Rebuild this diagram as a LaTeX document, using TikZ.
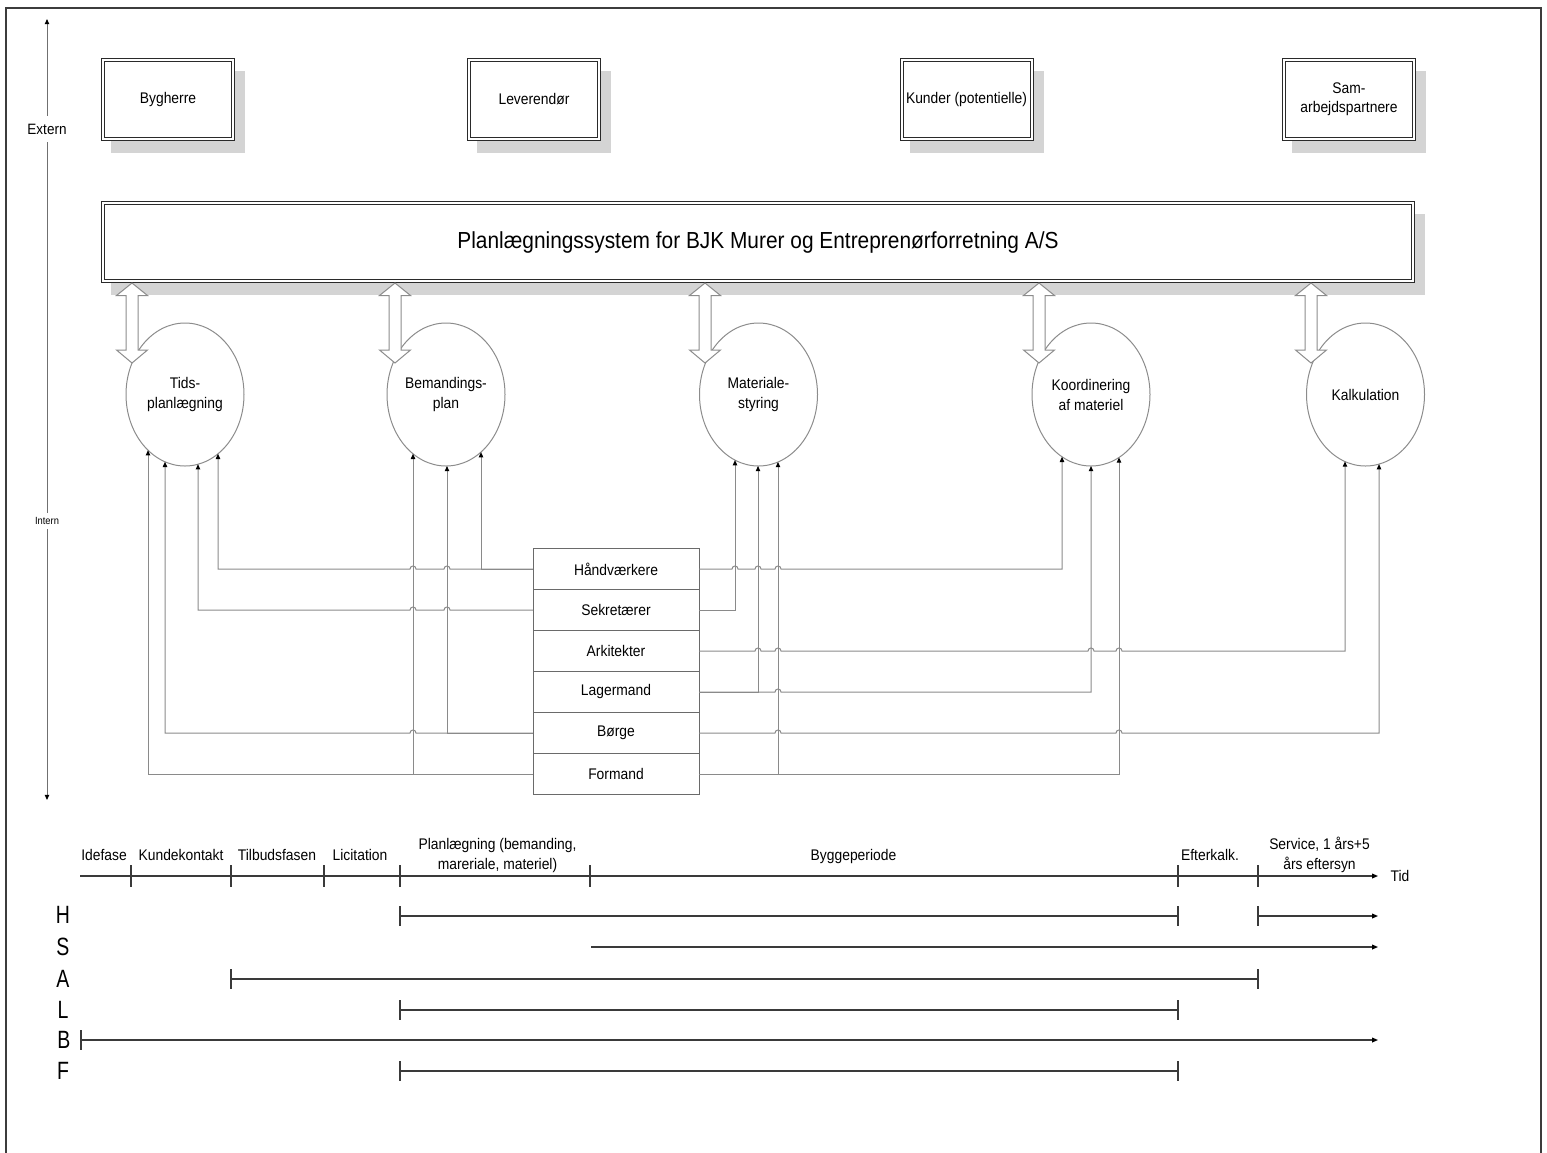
\documentclass[tikz,border=0pt]{standalone}
\usepackage{fontspec}
\setmainfont{Liberation Sans}[FakeStretch=0.9]
\newfontfamily\rowfont[FakeStretch=0.78]{Liberation Sans}
\usetikzlibrary{arrows.meta,shapes.geometric,backgrounds}
\definecolor{framec}{HTML}{3C3C3C}
\definecolor{boxc}{HTML}{2A2A2A}
\definecolor{shadowc}{HTML}{D4D4D4}
\definecolor{connc}{HTML}{8A8A8A}
\definecolor{ellc}{HTML}{8C8C8C}
\definecolor{tabc}{HTML}{6A6A6A}
\definecolor{tlc}{HTML}{3A3A3A}
\definecolor{axisc}{HTML}{707070}
\begin{document}
\begin{tikzpicture}[x=0.5pt,y=-0.5pt,
  txt/.style={font=\fontsize{7.7}{10}\selectfont, align=center, inner sep=0pt},
  basetxt/.style={txt, anchor=base},
  topbox/.style={draw=boxc, double=white, double distance=1pt, line width=0.5pt, fill=white,
    minimum width=65pt, minimum height=39.5pt, inner sep=0pt, outer sep=0pt, align=center,
    font=\fontsize{7.7}{9.4}\selectfont},
  sysbox/.style={topbox, minimum width=655pt, minimum height=39pt, font=\fontsize{11.6}{13}\selectfont},
  ell/.style={ellipse, draw=ellc, line width=0.5pt, minimum width=59pt, minimum height=71.5pt,
    inner sep=0pt, outer sep=0pt, align=center, font=\fontsize{7.7}{10}\selectfont},
  rowbox/.style={draw=tabc, line width=0.5pt, fill=white, minimum width=83pt, minimum height=20.5pt,
    inner sep=0pt, outer sep=0pt, font=\fontsize{7.7}{9}\selectfont},
  conn/.style={draw=connc, line width=0.5pt},
  endarrow/.style={-{Triangle[length=2.6pt,width=2.2pt,color=black]}},
  tl/.style={draw=tlc, line width=0.6pt},
  tlarrow/.style={-{Triangle[length=3pt,width=2.4pt,color=black]}},
  rowlbl/.style={font=\rowfont\fontsize{12.5}{12.5}\selectfont, inner sep=0pt},
  dblarrow/.pic={
    \draw[draw=ellc, line width=0.5pt, fill=white]
      (0,0) -- (15.5,12.5) -- (6,12.5) -- (6,67) -- (15.5,67) -- (0,80)
      -- (-15.5,67) -- (-6,67) -- (-6,12.5) -- (-15.5,12.5) -- cycle;
  }
]
\useasboundingbox (0,0) rectangle (1547,1152);
% frame
\draw[framec, line width=1pt] (6,1160) -- (6,7.5) -- (1541,7.5) -- (1541,1160);

% left axis
\draw[axisc, line width=0.5pt, {Triangle[length=2.6pt,width=2.2pt,color=black]}-{Triangle[length=2.6pt,width=2.2pt,color=black]}] (47,19) -- (47,800);
\node[fill=white, inner xsep=1pt, inner ysep=4pt, font=\fontsize{7.5}{8}\selectfont] (ext) at (47,129) {Extern};
\node[fill=white, inner xsep=1pt, inner ysep=2pt, font=\fontsize{5.2}{6}\selectfont] (int) at (47,521) {Intern};

% top boxes
\node[topbox] (b1) at (168,99.5) {Bygherre};
\node[topbox] (b2) at (534,99.5) {Leverendør};
\node[topbox] (b3) at (966.5,99.5) {Kunder (potentielle)};
\node[topbox] (b4) at (1349,99.5) {Sam-\\arbejdspartnere};
\node[sysbox] (sys) at (758,242) {Planlægningssystem for BJK Murer og Entreprenørforretning A/S};

\begin{pgfonlayer}{background}
\foreach \n in {b1,b2,b3,b4,sys}
  \fill[shadowc] ([shift={(4pt,-5.5pt)}]\n.north west) rectangle ([shift={(6pt,-7pt)}]\n.south east);
\end{pgfonlayer}

% ellipses
\node[ell] (tids) at (185,394.5) {Tids-\\planlægning};
\node[ell] (bem) at (446,394.5) {Bemandings-\\plan};
\node[ell] (mat) at (758.5,394.5) {Materiale-\\styring};
\node[ell] (koo) at (1091,394.5) {Koordinering\\af materiel};
\node[ell] (kal) at (1365.5,394.5) {Kalkulation};

% double arrows
\pic at (132,283) {dblarrow};
\pic at (395,283) {dblarrow};
\pic at (705,283) {dblarrow};
\pic at (1039,283) {dblarrow};
\pic at (1311,283) {dblarrow};

% table
\node[rowbox] (hv) at (616,569) {Håndværkere};
\node[rowbox] (sk) at (616,610) {Sekretærer};
\node[rowbox] (ar) at (616,651) {Arkitekter};
\node[rowbox] (lg) at (616,692) {Lagermand};
\node[rowbox] (bo) at (616,733) {Børge};
\node[rowbox] (fm) at (616,774) {Formand};

% left connectors
\draw[conn, endarrow] (hv.west) -- (450,569) .. controls (450,565) and (444,565) .. (444,569)
  -- (416,569) .. controls (416,565) and (410,565) .. (410,569) -- (218,569) -- (218,453.8);
\draw[conn, endarrow] (hv.west) -| (481,452.1);
\draw[conn, endarrow] (sk.west) -- (450,610) .. controls (450,606) and (444,606) .. (444,610)
  -- (416,610) .. controls (416,606) and (410,606) .. (410,610) -- (198,610) -- (198,464.2);
\draw[conn, endarrow] (bo.west) -- (416,733) .. controls (416,729) and (410,729) .. (410,733)
  -- (165,733) -- (165,461.8);
\draw[conn, endarrow] (bo.west) -| (447,466);
\draw[conn, endarrow] (fm.west) -| (148,450.2);
\draw[conn, endarrow] (fm.west) -| (413,453.8);

% right connectors
\draw[conn, endarrow] (hv.east) -- (732,569) .. controls (732,565) and (738,565) .. (738,569)
  -- (755,569) .. controls (755,565) and (761,565) .. (761,569)
  -- (775,569) .. controls (775,565) and (781,565) .. (781,569) -- (1062,569) -- (1062,456.8);
\draw[conn, endarrow] (sk.east) -| (735,460.1);
\draw[conn, endarrow] (ar.east) -- (755,651) .. controls (755,647) and (761,647) .. (761,651)
  -- (775,651) .. controls (775,647) and (781,647) .. (781,651)
  -- (1088,651) .. controls (1088,647) and (1094,647) .. (1094,651)
  -- (1116,651) .. controls (1116,647) and (1122,647) .. (1122,651) -- (1345,651) -- (1345,461.5);
\draw[conn, endarrow] (lg.east) -| (758,466);
\draw[conn, endarrow] (lg.east) -- (775,692) .. controls (775,688) and (781,688) .. (781,692)
  -- (1091,692) -- (1091,466);
\draw[conn, endarrow] (bo.east) -- (775,733) .. controls (775,729) and (781,729) .. (781,733)
  -- (1116,733) .. controls (1116,729) and (1122,729) .. (1122,733) -- (1379,733) -- (1379,464.1);
\draw[conn, endarrow] (fm.east) -| (778,462);
\draw[conn, endarrow] (fm.east) -| (1119,457.4);

% timeline axis
\draw[tl, tlarrow] (80,876) -- (1378,876);
\foreach \x in {131,231,324,400,590,1178,1258} \draw[tl] (\x,865) -- (\x,887);
\node[basetxt] (tid) at (1400,881) {Tid};
\node[basetxt] (p1) at (104,860) {Idefase};
\node[basetxt] (p2) at (181,860) {Kundekontakt};
\node[basetxt] (p3) at (277,860) {Tilbudsfasen};
\node[basetxt] (p4) at (360,860) {Licitation};
\node[txt] (p5) at (497.5,855) {Planlægning (bemanding,\\mareriale, materiel)};
\node[basetxt] (p6) at (853.5,860) {Byggeperiode};
\node[basetxt] (p7) at (1210,860) {Efterkalk.};
\node[txt] (p8) at (1319.5,855) {Service, 1 års+5\\års eftersyn};

% rows
\node[rowlbl] (rH) at (63,915) {H};
\node[rowlbl] (rS) at (63,947) {S};
\node[rowlbl] (rA) at (63,979) {A};
\node[rowlbl] (rL) at (63,1010) {L};
\node[rowlbl] (rB) at (64,1040) {B};
\node[rowlbl] (rF) at (63,1071) {F};

% H
\draw[tl] (400,916) -- (1178,916);
\draw[tl] (400,906) -- (400,926) (1178,906) -- (1178,926) (1258,906) -- (1258,926);
\draw[tl, tlarrow] (1258,916) -- (1378,916);
% S
\draw[tl, tlarrow] (591,947) -- (1378,947);
% A
\draw[tl] (231,979) -- (1258,979) (231,969) -- (231,989) (1258,969) -- (1258,989);
% L
\draw[tl] (400,1010) -- (1178,1010) (400,1000) -- (400,1020) (1178,1000) -- (1178,1020);
% B
\draw[tl, tlarrow] (81,1040) -- (1378,1040);
\draw[tl] (81,1030) -- (81,1050);
% F
\draw[tl] (400,1071) -- (1178,1071) (400,1061) -- (400,1081) (1178,1061) -- (1178,1081);
\end{tikzpicture}
\end{document}
